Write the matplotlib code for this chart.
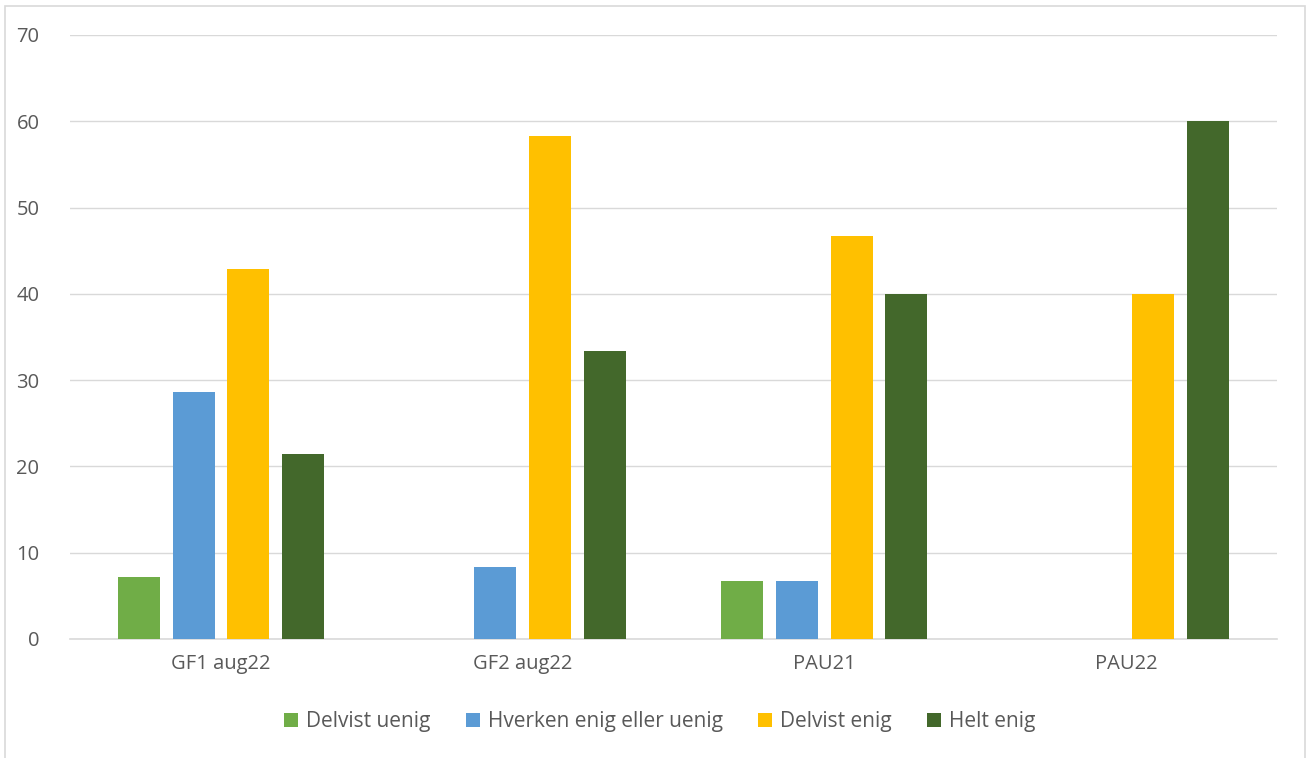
import matplotlib
matplotlib.use("Agg")
import matplotlib.pyplot as plt
import numpy as np
from matplotlib.patches import Rectangle

categories = ["GF1 aug22", "GF2 aug22", "PAU21", "PAU22"]
series_names = ["Delvist uenig", "Hverken enig eller uenig", "Delvist enig", "Helt enig"]
delvist_uenig = [7.14, 0, 6.67, 0]
hverken = [28.57, 8.33, 6.67, 0]
delvist_enig = [42.86, 58.33, 46.67, 40]
helt_enig = [21.43, 33.33, 40, 60]
colors = ["#70AD47", "#5B9BD5", "#FFC000", "#43682B"]

plt.rcParams['font.family'] = ['Open Sans', 'DejaVu Sans']
text_color = "#595959"

fig = plt.figure(figsize=(13.08, 7.58), dpi=100)
ax = fig.add_axes([70/1308, 1-639/758, (1277-70)/1308, (639-35)/758])

fig.patches.append(Rectangle((5/1308, -0.01), 1300/1308, 1-6/758+0.01,
                             transform=fig.transFigure, fill=False,
                             edgecolor="#D9D9D9", linewidth=1.2))

x = np.arange(len(categories))
series = [delvist_uenig, hverken, delvist_enig, helt_enig]
bw = 0.139
stride = 0.181
for i, (vals, name, c) in enumerate(zip(series, series_names, colors)):
    offs = (i - 1.5) * stride
    ax.bar(x + offs, vals, width=bw, color=c, label=name, zorder=3)

ax.set_xlim(-0.5, 3.5)
ax.set_ylim(0, 70)
ax.set_yticks(range(0, 71, 10))
ax.set_xticks(x)
ax.set_xticklabels(categories)
ax.yaxis.grid(True, color="#D9D9D9", linewidth=1, zorder=0)
for s in ["top", "right", "left"]:
    ax.spines[s].set_visible(False)
ax.spines["bottom"].set_color("#D9D9D9")
ax.spines["bottom"].set_linewidth(1.2)
ax.tick_params(axis="both", length=0, colors=text_color, labelsize=14.5)
ax.tick_params(axis="y", pad=22)
ax.tick_params(axis="x", pad=11)

leg = fig.legend(loc="center", bbox_to_anchor=(660/1308, 1-722/758), ncol=4,
                 frameon=False, fontsize=15, handlelength=0.65, handleheight=0.65,
                 handletextpad=0.4, columnspacing=1.7)
for t in leg.get_texts():
    t.set_color(text_color)

fig.savefig("out.png", dpi=100)
